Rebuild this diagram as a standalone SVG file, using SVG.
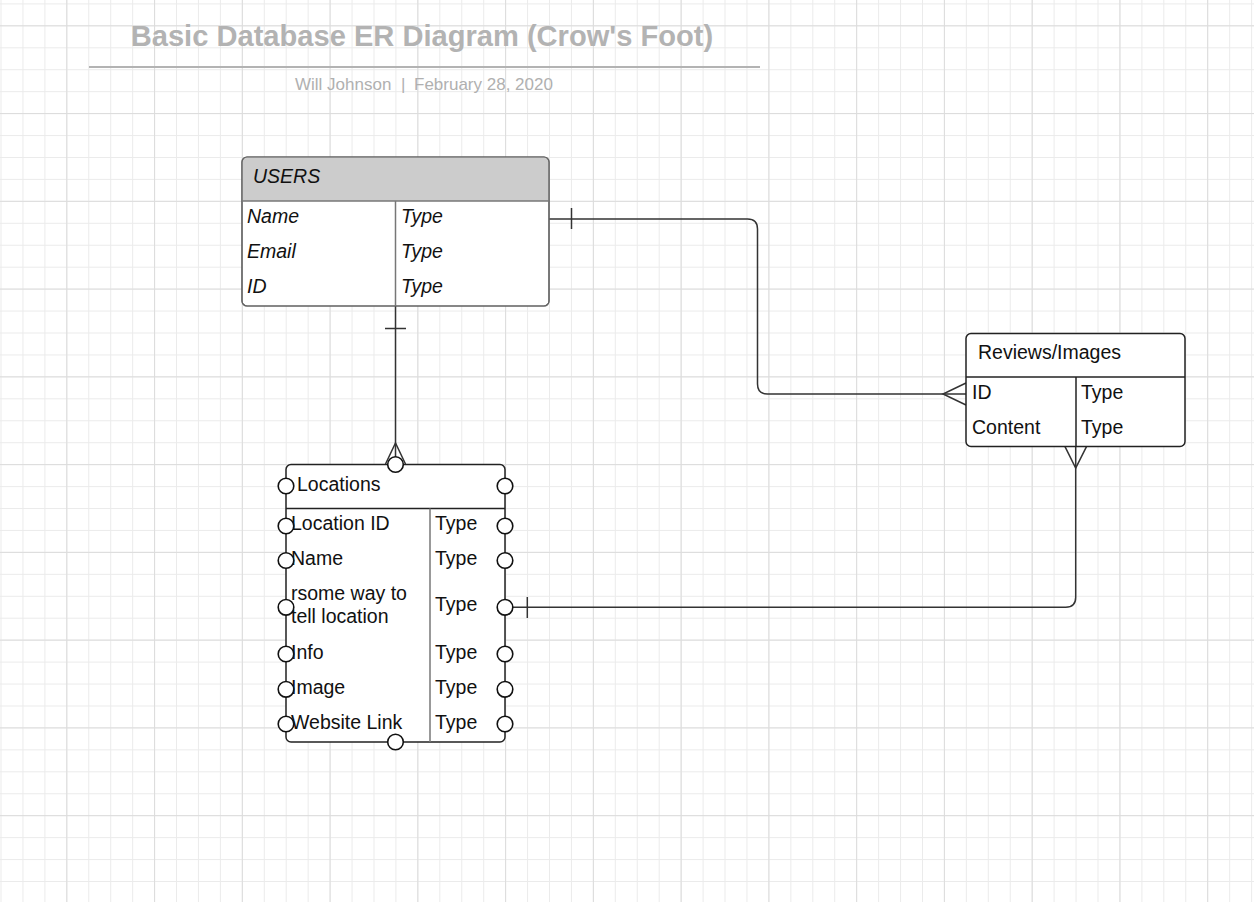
<svg xmlns="http://www.w3.org/2000/svg" width="1254" height="902" viewBox="0 0 1254 902">
<style>
.t{font-family:"Liberation Sans",Arial,sans-serif;font-size:19.5px;fill:#111}
.i{font-style:italic}
.box{fill:#fff;stroke:#555;stroke-width:1.2}
.boxd{fill:#fff;stroke:#222;stroke-width:1.5}
.div{stroke:#777;stroke-width:1.5;fill:none}
.divd{stroke:#222;stroke-width:1.5;fill:none}
.con{stroke:#333;stroke-width:1.5;fill:none}
.pt{fill:#fff;stroke:#111;stroke-width:1.6}
</style>
<defs>
<pattern id="minor" patternUnits="userSpaceOnUse" x="0.5" y="3.4" width="21.94" height="21.94">
<path d="M0 0.5H21.94M0.5 0V21.94" stroke="#ebebeb" stroke-width="1" fill="none"/>
</pattern>
<pattern id="major" patternUnits="userSpaceOnUse" x="66.3" y="25.3" width="87.76" height="87.76">
<path d="M0 0.5H87.76M0.5 0V87.76" stroke="#dcdcdc" stroke-width="1" fill="none"/>
</pattern>
</defs>
<rect width="1254" height="902" fill="#fff"/>
<rect width="1254" height="902" fill="url(#minor)"/>
<rect width="1254" height="902" fill="url(#major)"/>

<g id="title">
<text x="422" y="46" text-anchor="middle" font-family="Liberation Sans, Arial, sans-serif" font-weight="bold" font-size="29.1" fill="#b3b3b3">Basic Database ER Diagram (Crow's Foot)</text>
<line x1="89" y1="67" x2="760" y2="67" stroke="#b3b3b3" stroke-width="2"/>
<text x="295" y="89.5" font-family="Liberation Sans, Arial, sans-serif" font-size="17" fill="#b0b0b0">Will Johnson</text>
<text x="401" y="89.5" font-family="Liberation Sans, Arial, sans-serif" font-size="17" fill="#b0b0b0">|</text>
<text x="414" y="89.5" font-family="Liberation Sans, Arial, sans-serif" font-size="17" fill="#b0b0b0">February 28, 2020</text>
</g>

<g id="connectors">
<path class="con" d="M549,219 H747.5 Q757.5,219 757.5,229 V384 Q757.5,394 767.5,394 H966"/>
<path class="con" d="M571.5,208 V229"/>
<path class="con" d="M966,383 L943,394 L966,405"/>
<path class="con" d="M395.5,306 V464"/>
<path class="con" d="M385,328.5 H406"/>
<path class="con" d="M385.5,464 L395.5,443 L405.5,464"/>
<path class="con" d="M1075.7,446.7 V597.3 Q1075.7,607.3 1065.7,607.3 H505"/>
<path class="con" d="M527.3,597 V618"/>
<path class="con" d="M1065,446.7 L1075.7,468 L1086.5,446.7"/>
</g>

<g id="users">
<rect class="box" x="242" y="157" width="307" height="149" rx="5"/>
<path d="M242.6,201 V162 A5,5 0 0 1 247,157.6 H544 A5,5 0 0 1 548.4,162 V201 Z" fill="#ccc"/>
<rect x="242" y="157" width="307" height="149" rx="5" fill="none" stroke="#666" stroke-width="1.2"/>
<line class="div" x1="242" y1="201" x2="549" y2="201"/>
<line class="div" x1="395.5" y1="201" x2="395.5" y2="306"/>
<text class="t i" x="253" y="183">USERS</text>
<text class="t i" x="247" y="223">Name</text>
<text class="t i" x="401" y="223">Type</text>
<text class="t i" x="247" y="258">Email</text>
<text class="t i" x="401" y="258">Type</text>
<text class="t i" x="247" y="293">ID</text>
<text class="t i" x="401" y="293">Type</text>
</g>

<g id="locations">
<rect class="boxd" x="286" y="464.5" width="219" height="277.5" rx="5"/>
<line class="divd" x1="286" y1="508.5" x2="505" y2="508.5"/>
<line class="div" x1="430" y1="508.5" x2="430" y2="742"/>
<text class="t" x="297" y="491">Locations</text>
<text class="t" x="291" y="530">Location ID</text>
<text class="t" x="435" y="530">Type</text>
<text class="t" x="291" y="565">Name</text>
<text class="t" x="435" y="565">Type</text>
<text class="t" x="291" y="600">rsome way to</text>
<text class="t" x="291" y="622.5">tell location</text>
<text class="t" x="435" y="611">Type</text>
<text class="t" x="291" y="659">Info</text>
<text class="t" x="435" y="659">Type</text>
<text class="t" x="291" y="694">Image</text>
<text class="t" x="435" y="694">Type</text>
<text class="t" x="291" y="729">Website Link</text>
<text class="t" x="435" y="729">Type</text>
<circle class="pt" cx="395.5" cy="464.5" r="7.8"/>
<circle class="pt" cx="395.5" cy="742" r="7.8"/>
<circle class="pt" cx="286" cy="486" r="7.8"/>
<circle class="pt" cx="505" cy="486" r="7.8"/>
<circle class="pt" cx="286" cy="526" r="7.8"/>
<circle class="pt" cx="505" cy="526" r="7.8"/>
<circle class="pt" cx="286" cy="560.5" r="7.8"/>
<circle class="pt" cx="505" cy="560.5" r="7.8"/>
<circle class="pt" cx="286" cy="607.3" r="7.8"/>
<circle class="pt" cx="505" cy="607.3" r="7.8"/>
<circle class="pt" cx="286" cy="654" r="7.8"/>
<circle class="pt" cx="505" cy="654" r="7.8"/>
<circle class="pt" cx="286" cy="689.3" r="7.8"/>
<circle class="pt" cx="505" cy="689.3" r="7.8"/>
<circle class="pt" cx="286" cy="724" r="7.8"/>
<circle class="pt" cx="505" cy="724" r="7.8"/>
</g>

<g id="reviews">
<rect class="boxd" x="966" y="333.5" width="219" height="113" rx="5"/>
<line class="divd" x1="966" y1="377" x2="1185" y2="377"/>
<line class="divd" x1="1076" y1="377" x2="1076" y2="446.5"/>
<text class="t" x="978" y="359">Reviews/Images</text>
<text class="t" x="972" y="399">ID</text>
<text class="t" x="1081" y="399">Type</text>
<text class="t" x="972" y="434">Content</text>
<text class="t" x="1081" y="434">Type</text>
</g>
</svg>
